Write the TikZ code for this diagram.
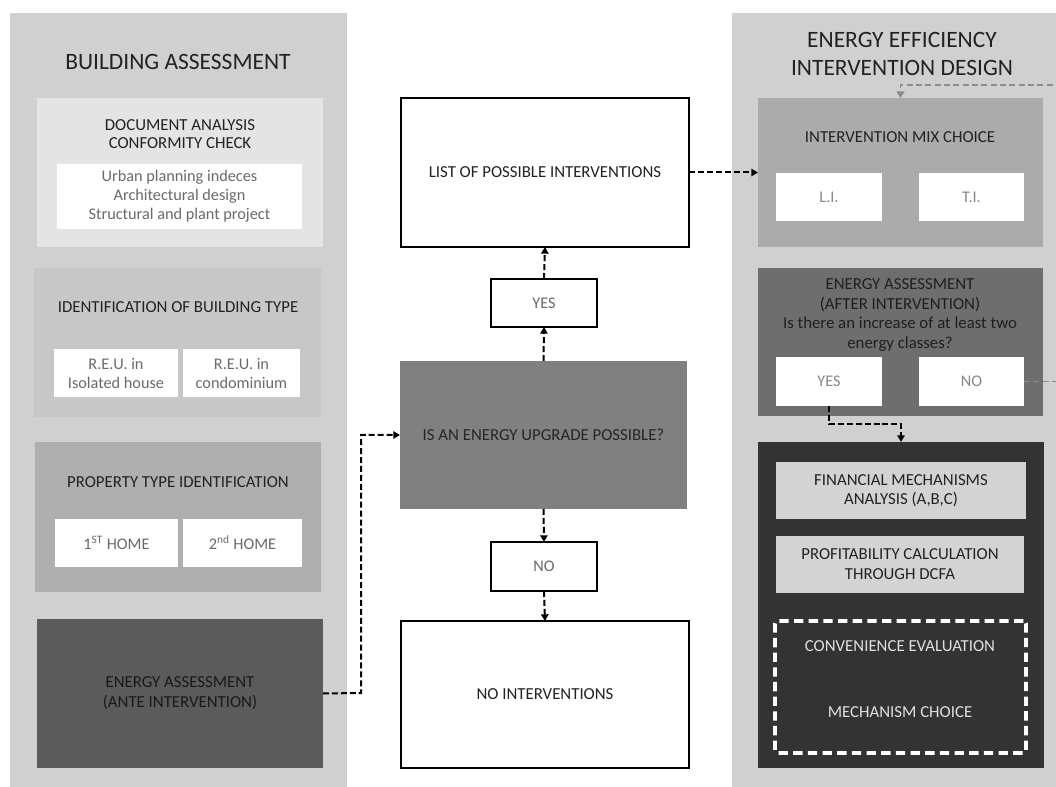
\documentclass[tikz,border=0pt]{standalone}
\usepackage{fontspec}
\setmainfont{Carlito}
\usetikzlibrary{arrows.meta}
\definecolor{panelc}{HTML}{D0D0D0}
\definecolor{docc}{HTML}{E4E4E4}
\definecolor{btc}{HTML}{C7C7C7}
\definecolor{propc}{HTML}{AFAFAF}
\definecolor{antec}{HTML}{5B5B5B}
\definecolor{decc}{HTML}{808080}
\definecolor{mixc}{HTML}{ABABAB}
\definecolor{afterc}{HTML}{6E6E6E}
\definecolor{darkc}{HTML}{333333}
\definecolor{finc}{HTML}{D3D3D3}
\definecolor{txtc}{HTML}{222222}
\definecolor{softc}{HTML}{6A6A6A}
\definecolor{linkgray}{HTML}{8C8C8C}
\newcommand\ftitle{\fontsize{17.6}{20.3}\selectfont}
\newcommand\fhead{\fontsize{12.6}{14}\selectfont}
\newcommand\fbody{\fontsize{12.2}{14.3}\selectfont}
\begin{document}
\begin{tikzpicture}[x=0.75pt,y=-0.75pt,
  bx/.style n args={4}{at={({(#1+#3)/2},{(#2+#4)/2})},
    minimum width={(#3-#1)*0.75pt}, minimum height={(#4-#2)*0.75pt},
    inner sep=0pt, outer sep=0pt, anchor=center},
  panel/.style={fill=panelc},
  title/.style={text=txtc, font=\ftitle, align=center},
  head/.style={text=txtc, font=\fhead, align=center},
  wbox/.style={fill=white, text=softc, font=\fbody, align=center},
  cbox/.style={fill=white, draw=black, line width=1.5pt, text=txtc, font=\fhead, align=center},
  ybox/.style={fill=white, draw=black, line width=1.5pt, text=softc, font=\fbody, align=center},
  conn/.style={draw=black, line width=1.5pt, dash pattern=on 4.5pt off 2.2pt,
    -{Triangle[length=5pt,width=5.5pt]}},
  gconn/.style={draw=linkgray, line width=1.2pt, dash pattern=on 4.5pt off 2.5pt,
    -{Triangle[length=5pt,width=6pt]}}
]
\useasboundingbox (0,0) rectangle (1056,787);
\clip (0,0) rectangle (1056,787);

% ---------- left panel ----------
\node[panel, bx={10}{13}{347}{790}] (lpanel) {};
\node[title] (ltitle) at (178,62) {BUILDING ASSESSMENT};

\node[fill=docc, bx={37}{98}{323}{247}] (doc) {};
\node[head] (doct) at (180,134) {DOCUMENT ANALYSIS\\CONFORMITY CHECK};
\node[wbox, bx={57}{164}{302}{229}] (docw) {Urban planning indeces\\Architectural design\\Structural and plant project};

\node[fill=btc, bx={34}{268}{321}{417}] (bt) {};
\node[head] (btt) at (178,307) {IDENTIFICATION OF BUILDING TYPE};
\node[wbox, bx={54}{349}{178}{397}] (reu1) {R.E.U. in\\Isolated house};
\node[wbox, bx={183}{349}{300}{397}] (reu2) {R.E.U. in\\condominium};

\node[fill=propc, bx={35}{442}{321}{592}] (prop) {};
\node[head] (propt) at (178,482) {PROPERTY TYPE IDENTIFICATION};
\node[wbox, bx={55}{519}{178}{567}] (home1) {1\textsuperscript{ST} HOME};
\node[wbox, bx={183}{519}{302}{567}] (home2) {2\textsuperscript{nd} HOME};

\node[fill=antec, head, font=\fontsize{12.6}{15}\selectfont, text=black!90, bx={37}{619}{323}{768}] (ante) {ENERGY ASSESSMENT\\(ANTE INTERVENTION)};

% ---------- centre ----------
\node[cbox, bx={401}{98}{689}{247}] (list) {LIST OF POSSIBLE INTERVENTIONS};
\node[ybox, bx={491}{279}{597}{327}] (yes) {YES};
\node[fill=decc, head, text=black!85, bx={400}{361}{687}{509}] (dec) {IS AN ENERGY UPGRADE POSSIBLE?};
\node[ybox, bx={491}{542}{597}{591}] (no) {NO};
\node[cbox, bx={401}{621}{689}{768}] (noint) {NO INTERVENTIONS};

% ---------- right panel ----------
\node[panel, bx={732}{13}{1070}{790}] (rpanel) {};
\node[title] (rtitle) at (902,54) {ENERGY EFFICIENCY\\INTERVENTION DESIGN};

\node[fill=mixc, bx={758}{98}{1043}{247}] (mix) {};
\node[head] (mixt) at (900,137) {INTERVENTION MIX CHOICE};
\node[wbox, text=softc!80, bx={776}{173}{882}{221}] (li) {L.I.};
\node[wbox, text=softc!80, bx={919}{173}{1024}{221}] (ti) {T.I.};

\node[fill=afterc, bx={758}{268}{1043}{416}] (after) {};
\node[head, font=\fontsize{12.6}{14.8}\selectfont, text=black!88] (aftert) at (900,315)
  {ENERGY ASSESSMENT\\(AFTER INTERVENTION)\\Is there an increase of at least two\\energy classes?};
\node[wbox, text=softc!80, bx={776}{357}{882}{406}] (yes2) {YES};
\node[wbox, text=softc!80, bx={919}{357}{1024}{406}] (no2) {NO};

\node[fill=darkc, bx={758}{442}{1044}{768}] (dark) {};
\node[fill=finc, head, bx={776}{462}{1026}{519}] (fin) {FINANCIAL MECHANISMS\\ANALYSIS (A,B,C)};
\node[fill=finc, head, font=\fontsize{12.6}{15}\selectfont, bx={776}{536}{1024}{593}] (prof) {PROFITABILITY CALCULATION\\THROUGH DCFA};
\node[draw=white, line width=2.8pt, dash pattern=on 7pt off 4pt, rounded corners=2pt,
  bx={775}{621}{1026}{753}] (conv) {};
\node[head, text=white!88!black] (convt) at (900,646) {CONVENIENCE EVALUATION};
\node[head, text=white!88!black] (mecht) at (900,712) {MECHANISM CHOICE};

% ---------- connectors ----------
\coordinate (k1) at (361,693);
\draw[conn] (ante.east) -- (k1) |- (dec.west);
\draw[conn] (dec.north) -- (yes.south);
\draw[conn] (yes.north) -- (list.south);
\draw[conn] (dec.south) -- (no.north);
\draw[conn] (no.south) -- (noint.north);
\draw[conn] (list.east) -- (mix.west);
\coordinate (k2) at (829,424);
\draw[conn] (yes2.south) -- (k2) -| (dark.north);
\coordinate (r1) at (1058,85);
\draw[gconn] (no2.east) -| (r1) -| (mix.north);
\end{tikzpicture}
\end{document}
